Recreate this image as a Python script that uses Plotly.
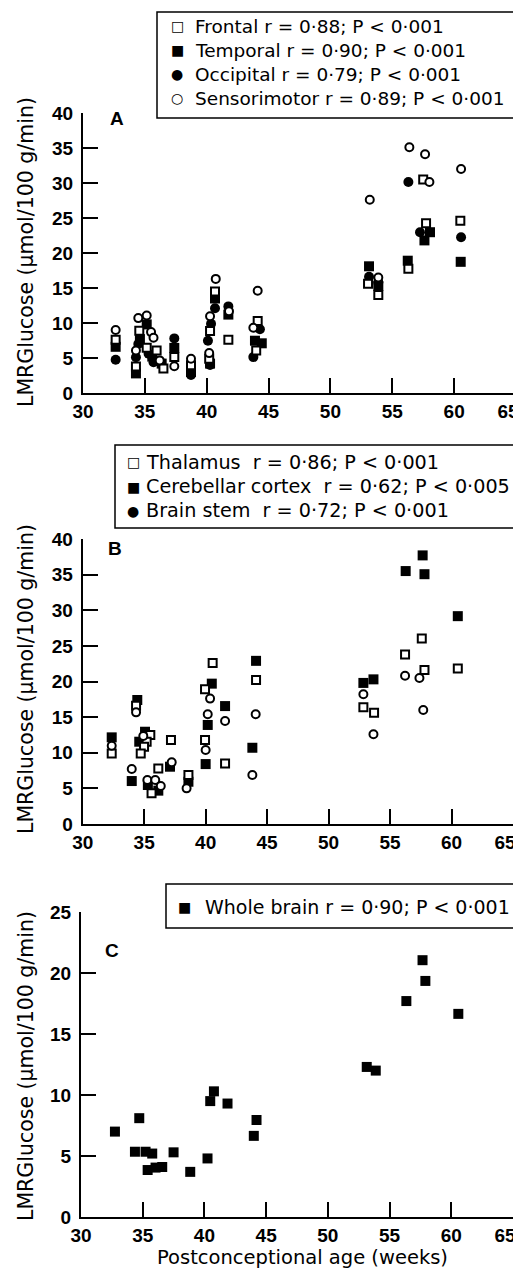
import plotly.graph_objects as go

W, H = 521, 1268
OFF = 8  # page body margin: the figure is drawn 8px right and down in the page

# ---------------- data ----------------
# Panel A
a_frontal_x = [32.64, 34.28, 34.55, 35.15, 35.95, 36.5, 37.38, 38.73, 40.27, 40.2, 40.67, 41.75, 44.12, 44.0, 53.04, 53.87, 56.3, 57.73, 57.5, 60.5]
a_frontal_y = [7.6, 3.8, 8.9, 6.45, 6.06, 3.5, 5.13, 3.97, 8.87, 4.9, 14.5, 7.6, 10.27, 6.06, 15.6, 14.0, 17.76, 24.25, 30.5, 24.6]
a_temporal_x = [32.64, 34.28, 34.6, 35.15, 35.6, 36.36, 37.38, 38.73, 40.27, 40.67, 41.75, 43.9, 44.45, 53.12, 53.87, 56.25, 57.6, 58.05, 60.53]
a_temporal_y = [6.6, 2.8, 7.7, 9.8, 5.2, 4.2, 6.44, 3.0, 4.2, 13.5, 11.2, 7.47, 7.1, 18.1, 15.3, 18.9, 21.8, 22.97, 18.74]
a_occipital_x = [32.64, 34.28, 34.47, 35.3, 35.7, 37.38, 38.73, 40.1, 40.27, 40.35, 40.67, 41.75, 44.3, 43.77, 53.12, 53.87, 56.3, 57.24, 60.56]
a_occipital_y = [4.76, 5.1, 7.0, 5.6, 4.4, 7.8, 2.56, 7.47, 4.0, 9.9, 12.1, 12.37, 9.1, 5.13, 16.6, 15.8, 30.15, 22.96, 22.26]
a_sensori_x = [32.64, 34.28, 34.47, 35.15, 35.5, 35.7, 36.2, 37.38, 38.73, 40.27, 40.2, 40.73, 41.8, 44.12, 43.77, 53.18, 53.87, 56.38, 57.65, 58.0, 60.56]
a_sensori_y = [9.0, 6.07, 10.7, 11.06, 8.7, 7.9, 4.66, 3.82, 4.9, 10.96, 5.7, 16.3, 11.67, 14.6, 9.33, 27.6, 16.5, 35.1, 34.1, 30.15, 32.0]

# Panel B
b_thal_x = [32.36, 34.34, 35.5, 35.2, 34.99, 34.72, 35.6, 36.15, 37.18, 38.6, 39.95, 39.95, 40.57, 41.58, 44.1, 52.83, 53.7, 56.22, 57.58, 57.8, 60.51]
b_thal_y = [9.9, 16.6, 12.48, 11.55, 10.85, 9.9, 4.3, 7.8, 11.78, 6.87, 11.78, 18.9, 22.6, 8.5, 20.2, 16.4, 15.6, 23.8, 26.04, 21.6, 21.84]
b_cereb_x = [32.36, 34.44, 33.99, 35.07, 34.6, 35.3, 36.15, 37.1, 38.6, 40.0, 40.17, 40.5, 41.58, 44.1, 43.8, 52.83, 53.65, 56.27, 57.65, 57.8, 60.51]
b_cereb_y = [12.16, 17.4, 6.03, 12.95, 11.55, 5.47, 4.68, 8.04, 5.93, 8.41, 13.9, 19.7, 16.55, 22.9, 10.7, 19.8, 20.3, 35.5, 37.7, 35.06, 29.17]
b_stem_x = [32.36, 34.34, 33.99, 34.93, 35.26, 35.9, 36.35, 37.24, 38.45, 40.0, 40.17, 40.36, 41.58, 44.07, 43.8, 52.83, 53.65, 56.22, 57.39, 57.7]
b_stem_y = [10.98, 15.67, 7.71, 12.34, 6.17, 6.17, 5.33, 8.65, 5.0, 10.38, 15.4, 17.6, 14.45, 15.4, 6.87, 18.2, 12.6, 20.8, 20.5, 16.0]

# Panel C
c_whole_x = [32.75, 34.37, 34.72, 35.23, 35.77, 35.4, 36.04, 36.58, 37.5, 38.85, 40.25, 40.47, 40.77, 41.87, 44.0, 44.22, 53.15, 53.88, 56.36, 57.9, 57.67, 60.57]
c_whole_y = [7.0, 5.35, 8.1, 5.35, 5.2, 3.85, 4.05, 4.1, 5.3, 3.7, 4.8, 9.5, 10.3, 9.3, 6.65, 7.95, 12.3, 12.0, 17.7, 19.35, 21.05, 16.65]

x_ticks = [30, 35, 40, 45, 50, 55, 60, 65]
x_ticktext = ["30", "35", "40", "45", "50", "55", "60", "65&nbsp;&nbsp;&nbsp;"]
y_ticks_ab = [0, 5, 10, 15, 20, 25, 30, 35, 40]
y_ticks_c = [0, 5, 10, 15, 20, 25]

legend_a = ["Frontal r = 0·88; P < 0·001", "Temporal r = 0·90; P < 0·001",
            "Occipital r = 0·79; P < 0·001", "Sensorimotor r = 0·89; P < 0·001"]
legend_a_sym = ["□", "■", "●", "○"]
legend_b = ["Thalamus  r = 0·86; P < 0·001", "Cerebellar cortex  r = 0·62; P < 0·005",
            "Brain stem  r = 0·72; P < 0·001"]
legend_b_sym = ["□", "■", "●"]
legend_c = ["Whole brain r = 0·90; P < 0·001"]
legend_c_sym = ["■"]

y_title = "LMRGlucose (µmol/100 g/min)"
x_title = "Postconceptional age (weeks)"


def px(x):
    return (x - OFF) / W


def py(y):
    return 1 - (y - OFF) / H


OPEN_SQ = dict(symbol="square", size=8, color="white", line=dict(color="black", width=2))
FILL_SQ = dict(symbol="square", size=10, color="black", line=dict(color="black", width=0))
FILL_CI = dict(symbol="circle", size=10, color="black", line=dict(color="black", width=0))
OPEN_CI = dict(symbol="circle", size=8, color="white", line=dict(color="black", width=2))

fig = go.Figure()


def add(xs, ys, marker, ax):
    fig.add_trace(go.Scatter(x=xs, y=ys, mode="markers", marker=marker,
                             xaxis="x" + ax, yaxis="y" + ax, showlegend=False,
                             cliponaxis=False, hoverinfo="skip"))


add(a_occipital_x, a_occipital_y, FILL_CI, "")
add(a_temporal_x, a_temporal_y, FILL_SQ, "")
add(a_frontal_x, a_frontal_y, OPEN_SQ, "")
add(a_sensori_x, a_sensori_y, OPEN_CI, "")

add(b_cereb_x, b_cereb_y, FILL_SQ, "2")
add(b_thal_x, b_thal_y, OPEN_SQ, "2")
add(b_stem_x, b_stem_y, OPEN_CI, "2")

add(c_whole_x, c_whole_y, FILL_SQ, "3")

tickfont = dict(family="Liberation Sans", size=19, color="black", weight="bold")


def xaxis(dom, anchor):
    return dict(domain=dom, range=[30, 65], anchor=anchor, showline=True, linecolor="black",
                linewidth=2, ticks="inside", ticklen=15, tickwidth=2, tickcolor="black",
                showgrid=False, zeroline=False, tickmode="array", tickvals=x_ticks,
                ticktext=x_ticktext, tickfont=tickfont, fixedrange=True,
                automargin=False, ticklabeloverflow="allow")


def yaxis(dom, rng, ticks, anchor):
    return dict(domain=dom, range=rng, anchor=anchor, showline=True, linecolor="black",
                linewidth=2, ticks="inside", ticklen=15, tickwidth=2, tickcolor="black",
                showgrid=False, zeroline=False, tickmode="array", tickvals=ticks,
                ticktext=[str(t) for t in ticks], tickfont=tickfont, fixedrange=True,
                ticklabelstandoff=4, automargin=False, ticklabeloverflow="allow")


layout = dict(
    width=W, height=H, autosize=False,
    margin=dict(l=0, r=0, t=0, b=0, pad=0, autoexpand=False),
    paper_bgcolor="white", plot_bgcolor="white", showlegend=False,
    xaxis=xaxis([px(83), px(516)], "y"),
    yaxis=yaxis([py(393), py(113)], [0, 40], y_ticks_ab, "x"),
    xaxis2=xaxis([px(82.7), px(513)], "y2"),
    yaxis2=yaxis([py(824), py(539)], [0, 40], y_ticks_ab, "x2"),
    xaxis3=xaxis([px(81), px(513)], "y3"),
    yaxis3=yaxis([py(1217), py(912)], [0, 25], y_ticks_c, "x3"),
)
fig.update_layout(**layout)

ann = []
shapes = []
symfont = dict(family="DejaVu Sans", size=14, color="black")


def legend(box, rows_y, sym_x, text_x, labels, syms, fsize):
    x0, y0, x1, y1 = box
    shapes.append(dict(type="rect", xref="paper", yref="paper", x0=px(x0), y0=py(y0),
                       x1=px(x1), y1=py(y1), line=dict(color="black", width=1.5),
                       fillcolor="rgba(0,0,0,0)"))
    for yy, lab, s in zip(rows_y, labels, syms):
        ann.append(dict(xref="paper", yref="paper", x=px(sym_x), y=py(yy), text=s,
                        showarrow=False, xanchor="center", yanchor="middle", font=symfont))
        ann.append(dict(xref="paper", yref="paper", x=px(text_x), y=py(yy), text=lab,
                        showarrow=False, xanchor="left", yanchor="middle",
                        font=dict(family="DejaVu Sans", size=fsize, color="black")))


legend((157, 12, 540, 118), [26, 50, 74, 98], 177, 193, legend_a, legend_a_sym, 18.5)
legend((115, 445, 540, 528), [462, 486.5, 511], 133, 144, legend_b, legend_b_sym, 19.2)
legend((166, 884, 540, 928), [906.5], 184, 203, legend_c, legend_c_sym, 19)

letterfont = dict(family="Liberation Sans", size=19, color="black", weight="bold")
for lt, (lx, ly) in zip(["A", "B", "C"], [(117, 118), (115, 548), (112, 950)]):
    ann.append(dict(xref="paper", yref="paper", x=px(lx), y=py(ly), text=lt, showarrow=False,
                    xanchor="center", yanchor="middle", font=letterfont))

titlefont = dict(family="DejaVu Sans", size=20.5, color="black")
for cy in [252, 679, 1066]:
    ann.append(dict(xref="paper", yref="paper", x=px(26), y=py(cy), text=y_title,
                    showarrow=False, textangle=-90, xanchor="center", yanchor="middle",
                    font=titlefont))
ann.append(dict(xref="paper", yref="paper", x=px(302), y=py(1257), text=x_title,
                showarrow=False, xanchor="center", yanchor="middle",
                font=dict(family="DejaVu Sans", size=19.5, color="black")))

fig.update_layout(annotations=ann, shapes=shapes)
fig.write_html("out.html")
